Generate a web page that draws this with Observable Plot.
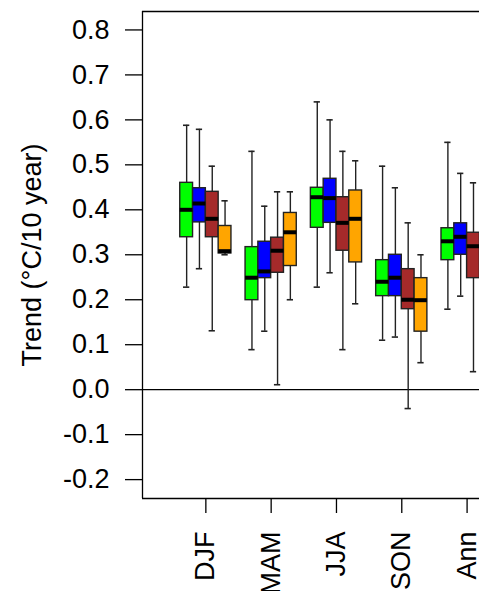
<!DOCTYPE html>
<html>
<head>
<meta charset="utf-8">
<script src="https://cdn.jsdelivr.net/npm/d3@7"></script>
<script src="https://cdn.jsdelivr.net/npm/@observablehq/plot@0.6"></script>
<style>
  html, body { margin: 0; padding: 0; background: #fff; }
  #chart { width: 479px; height: 591px; overflow: hidden; }
</style>
</head>
<body>
<div id="chart"></div>
<script>
// Categories (x) and series
const seasons = ["DJF", "MAM", "JJA", "SON", "Ann"];
const seriesNames = ["green", "blue", "brown", "orange"];
const seriesColors = ["#00FF00", "#0000FF", "#A52A2A", "#FFA500"];

// Box statistics per series (lower whisker, Q1, median, Q3, upper whisker) by season
const greenLo  = [0.228, 0.089, 0.228, 0.110, 0.179];
const greenQ1  = [0.339, 0.199, 0.360, 0.208, 0.288];
const greenMed = [0.400, 0.249, 0.428, 0.240, 0.330];
const greenQ3  = [0.460, 0.317, 0.449, 0.288, 0.359];
const greenHi  = [0.588, 0.530, 0.640, 0.497, 0.550];

const blueLo  = [0.269, 0.130, 0.260, 0.117, 0.208];
const blueQ1  = [0.372, 0.248, 0.371, 0.208, 0.300];
const blueMed = [0.414, 0.263, 0.426, 0.249, 0.340];
const blueQ3  = [0.448, 0.329, 0.469, 0.300, 0.370];
const blueHi  = [0.579, 0.408, 0.600, 0.449, 0.481];

const brownLo  = [0.131, 0.011, 0.089, -0.042, 0.040];
const brownQ1  = [0.339, 0.260, 0.309, 0.179, 0.248];
const brownMed = [0.380, 0.309, 0.371, 0.200, 0.319];
const brownQ3  = [0.440, 0.338, 0.428, 0.268, 0.349];
const brownHi  = [0.497, 0.440, 0.530, 0.371, 0.460];

// Ann orange box lies outside the visible area of the reference
const orangeLo  = [0.300, 0.200, 0.191, 0.060, null];
const orangeQ1  = [0.303, 0.275, 0.283, 0.129, null];
const orangeMed = [0.308, 0.350, 0.380, 0.199, null];
const orangeQ3  = [0.364, 0.393, 0.443, 0.248, null];
const orangeHi  = [0.420, 0.440, 0.509, 0.300, null];

const yTicks = [-0.2, -0.1, 0.0, 0.1, 0.2, 0.3, 0.4, 0.5, 0.6, 0.7, 0.8];
const yTickLabels = ["-0.2", "-0.1", "0.0", "0.1", "0.2", "0.3", "0.4", "0.5", "0.6", "0.7", "0.8"];
const yLabel = "Trend (\u00B0C/10 year)";

// Build table
const stats = [
  [greenLo, greenQ1, greenMed, greenQ3, greenHi],
  [blueLo, blueQ1, blueMed, blueQ3, blueHi],
  [brownLo, brownQ1, brownMed, brownQ3, brownHi],
  [orangeLo, orangeQ1, orangeMed, orangeQ3, orangeHi]
];
const boxW = 0.196;   // box width in category units
const capHalf = 0.048;
const rows = [];
seasons.forEach((s, i) => {
  seriesNames.forEach((name, k) => {
    const [lo, q1, med, q3, hi] = stats[k].map(a => a[i]);
    if (med == null) return;
    rows.push({season: s, series: name, x: i + (k - 1.5) * boxW, lo, q1, med, q3, hi, color: seriesColors[k]});
  });
});

const xDomain = [-0.97, 4.19];
const yDomain = [-0.242, 0.841];
const font = "'Liberation Sans', Arial, Helvetica, sans-serif";

const chart = Plot.plot({
  width: 479,
  height: 591,
  marginLeft: 142,
  marginRight: 0,
  marginTop: 11,
  marginBottom: 93,
  style: {fontFamily: font, fontSize: "27px", color: "#000", background: "#fff", overflow: "visible"},
  x: {domain: xDomain, axis: null},
  y: {domain: yDomain, axis: null},
  color: {type: "identity"},
  marks: [
    // zero line
    Plot.ruleY([0], {stroke: "#000", strokeWidth: 1.2}),
    // plot box: left, top, bottom
    Plot.ruleX([xDomain[0]], {stroke: "#000", strokeWidth: 1.3}),
    Plot.ruleY([yDomain[0], yDomain[1]], {stroke: "#000", strokeWidth: 1.3}),
    // whiskers
    Plot.ruleX(rows, {x: "x", y1: "lo", y2: "hi", stroke: "#222", strokeWidth: 1.4}),
    Plot.ruleY(rows, {y: "hi", x1: d => d.x - capHalf, x2: d => d.x + capHalf, stroke: "#222", strokeWidth: 1.6}),
    Plot.ruleY(rows, {y: "lo", x1: d => d.x - capHalf, x2: d => d.x + capHalf, stroke: "#222", strokeWidth: 1.6}),
    // boxes
    Plot.rect(rows, {x1: d => d.x - boxW / 2, x2: d => d.x + boxW / 2, y1: "q1", y2: "q3", fill: "color", stroke: "#222", strokeWidth: 1.4}),
    // medians
    Plot.ruleY(rows, {y: "med", x1: d => d.x - boxW / 2, x2: d => d.x + boxW / 2, stroke: "#000", strokeWidth: 4}),
    // axes
    Plot.axisY(yTicks, {tickFormat: (d, i) => yTickLabels[i], tickSize: 17, tickPadding: 16, strokeWidth: 1.3, label: null, fontSize: 27}),
    Plot.axisX(seasons.map((_, i) => i), {tickFormat: i => seasons[i], tickSize: 15, tickPadding: 18, tickRotate: -90, strokeWidth: 1.3, label: null, fontSize: 27}),
    // y label
    Plot.text([yLabel], {frameAnchor: "left", dx: -110, rotate: -90, textAnchor: "middle", lineAnchor: "middle", fontSize: 27, fill: "#000"})
  ]
});
document.getElementById("chart").appendChild(chart);
</script>
</body>
</html>
